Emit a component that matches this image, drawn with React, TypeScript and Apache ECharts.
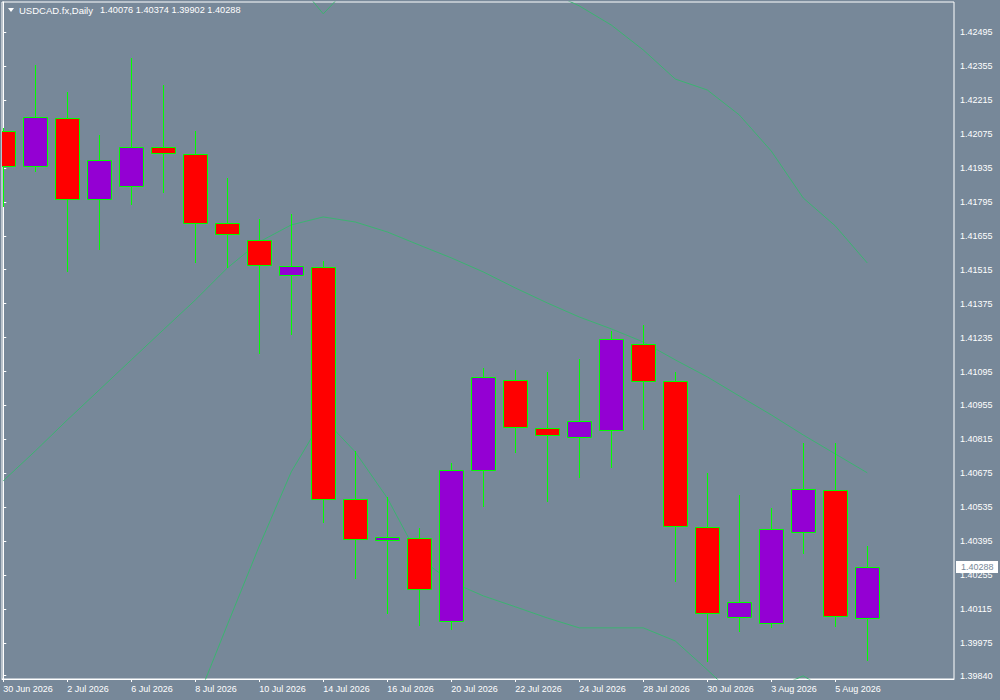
import React, { useEffect, useRef } from "react";
import * as echarts from "echarts";

// ---- data ----
const dates: string[] = [
  "30 Jun 2026", "1 Jul 2026", "2 Jul 2026", "3 Jul 2026", "6 Jul 2026", "7 Jul 2026",
  "8 Jul 2026", "9 Jul 2026", "10 Jul 2026", "13 Jul 2026", "14 Jul 2026", "15 Jul 2026",
  "16 Jul 2026", "17 Jul 2026", "20 Jul 2026", "21 Jul 2026", "22 Jul 2026", "23 Jul 2026",
  "24 Jul 2026", "27 Jul 2026", "28 Jul 2026", "29 Jul 2026", "30 Jul 2026", "31 Jul 2026",
  "3 Aug 2026", "4 Aug 2026", "5 Aug 2026", "6 Aug 2026",
];

const opens: number[] = [
  1.42087, 1.41942, 1.4214, 1.41806, 1.4186, 1.4202, 1.41992, 1.41707, 1.41637, 1.41495,
  1.41525, 1.40568, 1.40399, 1.40407, 1.40066, 1.4069, 1.4106, 1.40861, 1.40825, 1.40853,
  1.41208, 1.41055, 1.40452, 1.40081, 1.40056, 1.40432, 1.40605, 1.40076,
];
const highs: number[] = [
  1.421, 1.4236, 1.42249, 1.42071, 1.42389, 1.42278, 1.42088, 1.41894, 1.41725, 1.41745,
  1.41551, 1.40767, 1.40577, 1.40451, 1.40718, 1.4111, 1.41102, 1.41093, 1.41147, 1.41262,
  1.41287, 1.41095, 1.40678, 1.40586, 1.40532, 1.408, 1.408, 1.40374,
];
const lows: number[] = [
  1.41774, 1.41919, 1.41506, 1.41597, 1.41782, 1.41833, 1.41544, 1.41524, 1.41169, 1.41246,
  1.40471, 1.4024, 1.40096, 1.40046, 1.40027, 1.40537, 1.4076, 1.40558, 1.40655, 1.40698,
  1.40855, 1.40228, 1.39898, 1.40018, 1.40038, 1.40342, 1.40042, 1.39902,
];
const closes: number[] = [
  1.41942, 1.42144, 1.41806, 1.41967, 1.4202, 1.41996, 1.41707, 1.41661, 1.41534, 1.41529,
  1.40568, 1.40403, 1.40411, 1.40198, 1.40688, 1.41073, 1.40866, 1.40833, 1.4089, 1.41228,
  1.41056, 1.40457, 1.40098, 1.40143, 1.40444, 1.40612, 1.40086, 1.40288,
];

const bandUpper: number[] = [
  1.431, 1.4305, 1.43, 1.4296, 1.4292, 1.4288, 1.4284, 1.428, 1.4276, 1.42731,
  1.42571, 1.42711, 1.42752, 1.42814, 1.42835, 1.42814, 1.42752, 1.42665, 1.42604, 1.42525,
  1.42422, 1.42302, 1.42257, 1.42154, 1.42005, 1.41811, 1.41696, 1.41543,
];
const bandMiddle: number[] = [
  1.40644, 1.40767, 1.40895, 1.41019, 1.41143, 1.41267, 1.4139, 1.41522, 1.4163, 1.417,
  1.41733, 1.41712, 1.41671, 1.41617, 1.41564, 1.41506, 1.4144, 1.41378, 1.4132, 1.41271,
  1.41217, 1.41143, 1.41073, 1.40994, 1.40916, 1.40833, 1.40755, 1.40677,
];
const bandLower: number[] = [
  1.38089, 1.38296, 1.38502, 1.38708, 1.39038, 1.39368, 1.39719, 1.40049, 1.40375, 1.40681,
  1.40903, 1.40763, 1.40573, 1.40326, 1.40227, 1.40169, 1.40124, 1.40078, 1.40037, 1.40037,
  1.40037, 1.39983, 1.39864, 1.3974, 1.39781, 1.39839, 1.3976, 1.3974,
];

const priceTicks: number[] = [
  1.42495, 1.42355, 1.42215, 1.42075, 1.41935, 1.41795, 1.41655, 1.41515, 1.41375, 1.41235,
  1.41095, 1.40955, 1.40815, 1.40675, 1.40535, 1.40395, 1.40255, 1.40115, 1.39975, 1.3984,
];
const dateTickIdx: number[] = [0, 2, 4, 6, 8, 10, 12, 14, 16, 18, 20, 22, 24, 26];

const symbolName = "USDCAD.fx,Daily";

// ---- view range ----
const Y_MIN = 1.39826;
const Y_MAX = 1.4262;
const X_MIN = -0.04;
const X_MAX = 29.71;

const FONT = "Liberation Sans";
const BULL = "#9400d3";
const BEAR = "#ff0000";
const EDGE = "#00ff00";
const BAND = "#3cb371";
const BG = "#778899";

export default function App() {
  const ref = useRef<HTMLDivElement>(null);

  useEffect(() => {
    document.body.style.margin = "0";
    if (!ref.current) return;
    const chart = echarts.init(ref.current, null, { renderer: "svg" });

    const candleData = dates.map((_, i) => [i, opens[i], closes[i], lows[i], highs[i]]);
    const last = closes.length - 1;
    const ohlcText = [opens[last], highs[last], lows[last], closes[last]]
      .map((v) => v.toFixed(5))
      .join(" ");

    const lineSeries = (name: string, vals: number[]) => ({
      name,
      type: "line",
      data: vals.map((v, i) => [i, v]),
      showSymbol: false,
      symbol: "none",
      silent: true,
      clip: true,
      z: 1,
      lineStyle: { color: BAND, width: 1 },
    });

    chart.setOption({
      animation: false,
      backgroundColor: BG,
      textStyle: { fontFamily: FONT },
      grid: {
        left: 2,
        top: 2,
        right: 46,
        bottom: 21,
        show: true,
        borderColor: "#ffffff",
        borderWidth: 1,
        backgroundColor: "transparent",
      },
      xAxis: {
        type: "value",
        min: X_MIN,
        max: X_MAX,
        splitLine: { show: false },
        axisLine: { show: true, lineStyle: { color: "#ffffff", width: 1 } },
        axisTick: {
          show: true,
          customValues: dateTickIdx,
          length: 3,
          lineStyle: { color: "#ffffff" },
        },
        axisLabel: {
          customValues: dateTickIdx,
          formatter: (v: number) => dates[Math.round(v)] ?? "",
          align: "left",
          color: "#ffffff",
          fontSize: 9,
          fontFamily: FONT,
          margin: 5,
        },
      },
      yAxis: {
        type: "value",
        position: "right",
        min: Y_MIN,
        max: Y_MAX,
        splitLine: { show: false },
        axisLine: { show: true, lineStyle: { color: "#ffffff", width: 1 } },
        axisTick: {
          show: true,
          customValues: priceTicks,
          length: 3,
          lineStyle: { color: "#ffffff" },
        },
        axisLabel: {
          customValues: priceTicks,
          formatter: (v: number) => v.toFixed(5),
          color: "#ffffff",
          fontSize: 9,
          fontFamily: FONT,
          margin: 6,
        },
      },
      graphic: [
        {
          id: "tri",
          type: "polygon",
          shape: { points: [[8, 8], [14, 8], [11, 12]] },
          style: { fill: "#ffffff" },
          z: 100,
        },
        {
          id: "sym",
          type: "text",
          x: 19,
          y: 10,
          style: {
            text: symbolName,
            fill: "#ffffff",
            font: `9.5px ${FONT}`,
            verticalAlign: "middle",
          },
          z: 100,
        },
        {
          id: "ohlc",
          type: "text",
          x: 100,
          y: 10,
          style: {
            text: ohlcText,
            fill: "#ffffff",
            font: `9.2px ${FONT}`,
            verticalAlign: "middle",
          },
          z: 100,
        },
      ],
      series: [
        lineSeries("upper", bandUpper),
        lineSeries("middle", bandMiddle),
        lineSeries("lower", bandLower),
        {
          name: "candles",
          type: "custom",
          clip: true,
          z: 2,
          data: candleData,
          renderItem: (params: any, api: any) => {
            const i = api.value(0);
            const o = api.value(1);
            const c = api.value(2);
            const l = api.value(3);
            const h = api.value(4);
            const pO = api.coord([i, o]);
            const pC = api.coord([i, c]);
            const pL = api.coord([i, l]);
            const pH = api.coord([i, h]);
            const cx = Math.round(pO[0]);
            const yTop = Math.round(Math.min(pO[1], pC[1]));
            const yBot = Math.round(Math.max(pO[1], pC[1]));
            const bull = c >= o;
            return {
              type: "group",
              children: [
                {
                  type: "line",
                  shape: { x1: cx + 0.5, y1: Math.round(pH[1]), x2: cx + 0.5, y2: Math.round(pL[1]) },
                  style: { stroke: EDGE, lineWidth: 1 },
                },
                {
                  type: "rect",
                  shape: { x: cx - 11.5, y: yTop + 0.5, width: 24, height: Math.max(yBot - yTop, 1) },
                  style: { fill: bull ? BULL : BEAR, stroke: EDGE, lineWidth: 1 },
                },
              ],
            };
          },
        },
      ],
    });

    // current price tag on the price scale, positioned through the y axis
    const py = Math.round(chart.convertToPixel({ yAxisIndex: 0 }, closes[last]) as number);
    const rightEdge = 1000 - 46;
    chart.setOption({
      graphic: [
        {
          id: "pbg",
          type: "rect",
          shape: { x: rightEdge + 2, y: py - 6, width: 42, height: 12 },
          style: { fill: "#ffffff" },
          z: 200,
        },
        {
          id: "ptxt",
          type: "text",
          x: rightEdge + 7,
          y: py,
          style: {
            text: closes[last].toFixed(5),
            fill: BG,
            font: `9px ${FONT}`,
            verticalAlign: "middle",
          },
          z: 201,
        },
      ],
    });

    return () => chart.dispose();
  }, []);

  return (
    <div
      ref={ref}
      style={{ position: "fixed", left: 0, top: 0, width: 1000, height: 700 }}
    />
  );
}
